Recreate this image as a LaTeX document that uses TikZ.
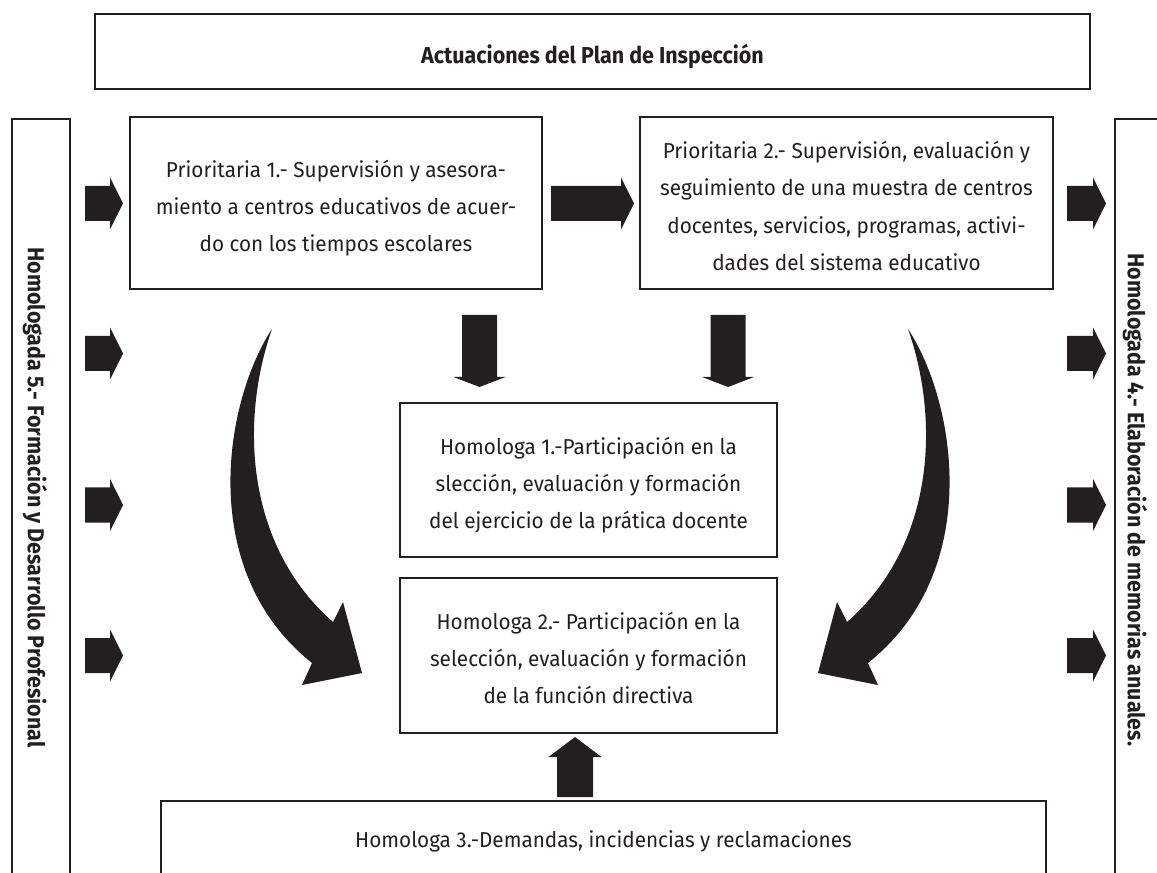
\documentclass[tikz,border=0pt]{standalone}
\usepackage{fontspec}
\setmainfont{Fira Sans}[FakeStretch=0.96]
\newfontfamily\titlefont{Fira Sans}[FakeStretch=0.93]
\newfontfamily\sidefont{Fira Sans}[FakeStretch=0.93]
\usetikzlibrary{fit}
\definecolor{ink}{HTML}{231F20}
\newcommand\rarr[3]{\fill[ink] (#1,#3-17.5) -- (#2-13,#3-17.5) -- (#2-13,#3-26) -- (#2,#3) -- (#2-13,#3+26) -- (#2-13,#3+17.5) -- (#1,#3+17.5) -- cycle;}
\newcommand\darr[3]{\fill[ink] (#1-17.5,#2) -- (#1+17.5,#2) -- (#1+17.5,#3-10) -- (#1+26,#3-10) -- (#1,#3) -- (#1-26,#3-10) -- (#1-17.5,#3-10) -- cycle;}
\begin{document}
\begin{tikzpicture}[x=0.75pt,y=-0.75pt,
  box/.style={draw=ink, line width=1.3pt, inner sep=0pt},
  txt/.style={text=ink, inner sep=0pt, align=center, anchor=center,
    font=\fontsize{16.2}{28}\selectfont},
  side/.style={text=ink, inner sep=0pt, rotate=-90, anchor=west,
    font=\fontsize{17.3}{20}\selectfont\sidefont\bfseries}]
\path[use as bounding box, clip] (0,0) rectangle (1157,873);
% boxes
\node[box, fit={(95,14)(1090,89)}] (top) {};
\node[box, fit={(12,119)(70,900)}] (h5) {};
\node[box, fit={(1115,119)(1173,900)}] (h4) {};
\node[box, fit={(130,117)(542,289)}] (p1) {};
\node[box, fit={(640,117)(1053,289)}] (p2) {};
\node[box, fit={(400,403)(777,557)}] (h1) {};
\node[box, fit={(400,578)(777,733)}] (h2) {};
\node[box, fit={(161,801)(1046,879)}] (h3) {};
% texts
\node[txt, font=\fontsize{17.3}{20}\selectfont\titlefont\bfseries] (topt) at (592.5,56) {Actuaciones del Plan de Inspección};
\node[txt] (p1t) at (336,208) {Prioritaria 1.- Supervisión y asesora-\\miento a centros educativos de acuer-\\do con los tiempos escolares};
\node[txt] (p2t) at (846.5,206) {Prioritaria 2.- Supervisión, evaluación y\\seguimiento de una muestra de centros\\docentes, servicios, programas, activi-\\dades del sistema educativo};
\node[txt] (h1t) at (588.5,485) {Homologa 1.-Participación en la\\slección, evaluación y formación\\del ejercicio de la prática docente};
\node[txt] (h2t) at (588.5,658) {Homologa 2.- Participación en la\\selección, evaluación y formación\\de la función directiva};
\node[txt] (h3t) at (603.5,841.5) {Homologa 3.-Demandas, incidencias y reclamaciones};
% side labels
\node[side] (h5t) at (35,247) {Homologada 5.- Formación y Desarrollo Profesional};
\node[side] (h4t) at (1135,253) {Homologada 4.- Elaboración de memorias anuales.};
% block arrows
\foreach \yy in {203.5,353.5,505,655.5}{\rarr{85}{123}{\yy}\rarr{1067}{1106}{\yy}}
\rarr{551}{634}{203.5}
\darr{479.5}{315}{387}
\darr{728}{315}{387}
\fill[ink] (557,797) -- (593,797) -- (593,757) -- (601.5,757) -- (575,737) -- (548.5,757) -- (557,757) -- cycle;
% curved arrows
\fill[ink] (272,329) .. controls (225,400) and (195,570) .. (312,663) -- (302,685) -- (362,673) -- (343,602) -- (333,622) .. controls (245,545) and (240,420) .. (272,329) -- cycle;
\fill[ink] (908,329) .. controls (955,400) and (985,570) .. (868,663) -- (878,685) -- (818,673) -- (837,602) -- (847,622) .. controls (935,545) and (940,420) .. (908,329) -- cycle;
\end{tikzpicture}
\end{document}
